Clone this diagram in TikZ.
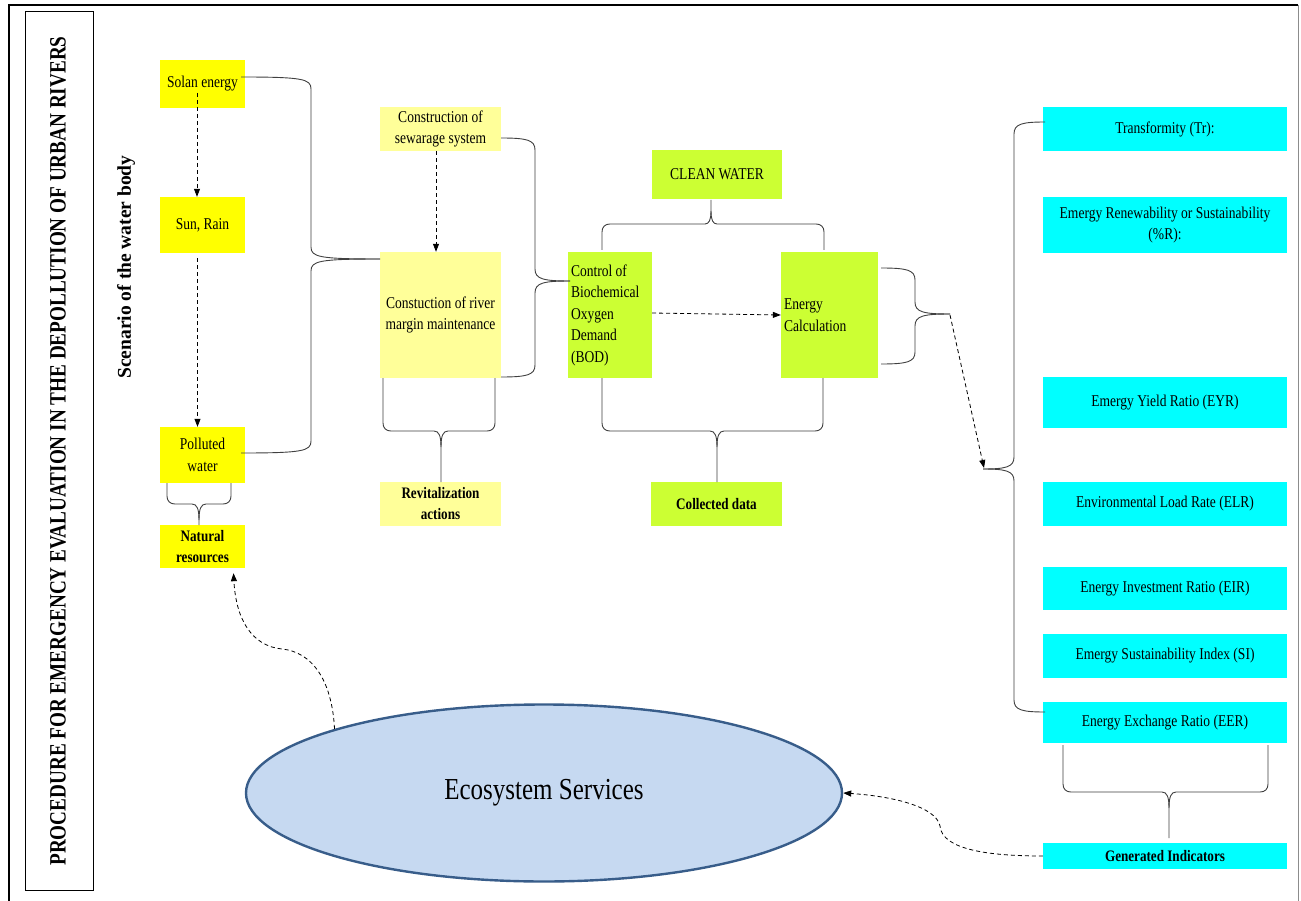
\documentclass[tikz,border=0pt]{standalone}
\usepackage{fontspec}
\setmainfont{Liberation Serif}[FakeStretch=0.82]
\newfontfamily\plainserif{Liberation Serif}
\usetikzlibrary{arrows.meta,calc,shapes.geometric}
\definecolor{yel}{HTML}{FFFF00}
\definecolor{lyel}{HTML}{FFFF99}
\definecolor{grn}{HTML}{CCFF33}
\definecolor{cyn}{HTML}{00FFFF}
\definecolor{ellfill}{HTML}{C6D9F1}
\definecolor{elldraw}{HTML}{385D8A}
\tikzset{
  base/.style={inner sep=0pt, align=center, font=\fontsize{16.5}{21.5}\selectfont},
  ybox/.style={base, fill=yel},
  lybox/.style={base, fill=lyel},
  gbox/.style={base, fill=grn},
  cbox/.style={base, fill=cyn, minimum width=244pt},
  boldlbl/.style={font=\bfseries\fontsize{16}{21}\selectfont},
  brc/.style={draw=black!75, line width=0.9pt},
  darr/.style={draw=black, line width=0.8pt, dash pattern=on 4pt off 3pt, -{Triangle[length=8pt,width=6pt]}},
}
\newcommand{\braceright}[6]{%
  \draw[brc] (#1,#4) .. controls (#2-8,#4) and (#2,#4+2) .. (#2,#4+12) -- (#2,#5-12) .. controls (#2,#5-2) and (#2+8,#5) .. (#3,#5);
  \draw[brc] (#1,#6) .. controls (#2-8,#6) and (#2,#6-2) .. (#2,#6-12) -- (#2,#5+12) .. controls (#2,#5+2) and (#2+8,#5) .. (#3,#5);}
\newcommand{\braceleftx}[6]{%
  \draw[brc] (#1,#4) .. controls (#2+8,#4) and (#2,#4+2) .. (#2,#4+12) -- (#2,#5-12) .. controls (#2,#5-2) and (#2-8,#5) .. (#3,#5);
  \draw[brc] (#1,#6) .. controls (#2+8,#6) and (#2,#6-2) .. (#2,#6-12) -- (#2,#5+12) .. controls (#2,#5+2) and (#2-8,#5) .. (#3,#5);}
\newcommand{\bracedown}[6]{%
  \draw[brc] (#1,#4) -- (#1,#5-8) .. controls (#1,#5-3) and (#1+3,#5) .. (#1+8,#5) -- (#3-7,#5) .. controls (#3-2,#5) and (#3,#5+5) .. (#3,#5+16) -- (#3,#6);
  \draw[brc] (#2,#4) -- (#2,#5-8) .. controls (#2,#5-3) and (#2-3,#5) .. (#2-8,#5) -- (#3+7,#5) .. controls (#3+2,#5) and (#3,#5+5) .. (#3,#5+16);}
\newcommand{\braceupx}[6]{%
  \draw[brc] (#1,#4) -- (#1,#5+8) .. controls (#1,#5+3) and (#1+3,#5) .. (#1+8,#5) -- (#3-6,#5) .. controls (#3-2,#5) and (#3,#5-4) .. (#3,#5-13) -- (#3,#6);
  \draw[brc] (#2,#4) -- (#2,#5+8) .. controls (#2,#5+3) and (#2-3,#5) .. (#2-8,#5) -- (#3+6,#5) .. controls (#3+2,#5) and (#3,#5-4) .. (#3,#5-13);}
\begin{document}
\begin{tikzpicture}[x=1pt,y=-1pt]
\useasboundingbox (0,0) rectangle (1301,901);
\fill[white] (0,0) rectangle (1301,901);
% frame
\draw[black, line width=1.8pt] (9,901) -- (9,5) -- (1298,5);
\draw[black!45, line width=0.8pt] (1298,5) -- (1298,901);
\draw[black, line width=0.8pt] (25,11) rectangle (93,890);
\node[rotate=90, font=\bfseries\fontsize{23.4}{27}\selectfont] (title) at (58,451) {PROCEDURE FOR EMERGENCY EVALUATION IN THE DEPOLLUTION OF URBAN RIVERS};
\node[rotate=90, font=\plainserif\bfseries\fontsize{19.5}{22}\selectfont] (scen) at (126,267) {Scenario of the water body};

% yellow column
\node[ybox, minimum width=85pt, minimum height=48pt] (sol) at (202.5,84) {Solan energy};
\node[ybox, minimum width=85pt, minimum height=56pt] (sun) at (202.5,225) {Sun, Rain};
\node[ybox, minimum width=85pt, minimum height=56pt] (pol) at (202.5,455) {Polluted\\water};
\node[ybox, boldlbl, minimum width=85pt, minimum height=43pt] (nat) at (202.5,546.5) {Natural\\resources};

% light yellow column
\node[lybox, minimum width=121pt, minimum height=44pt] (sew) at (440.5,129) {Construction of\\sewarage system};
\node[lybox, minimum width=121pt, minimum height=126pt] (riv) at (440.5,315) {Constuction of river\\margin maintenance};
\node[lybox, boldlbl, minimum width=121pt, minimum height=44pt] (rev) at (440.5,504) {Revitalization\\actions};

% green
\node[gbox, minimum width=84pt, minimum height=126pt, text width=78pt, align=flush left, inner xsep=3pt] (bod) at (610,315) {Control of\\Biochemical\\Oxygen\\Demand\\(BOD)};
\node[gbox, minimum width=130pt, minimum height=49pt] (cw) at (717,174.5) {CLEAN WATER};
\node[gbox, minimum width=97pt, minimum height=126pt, text width=91pt, align=flush left, inner xsep=3pt] (ec) at (829.5,315) {Energy\\Calculation};
\node[gbox, boldlbl, minimum width=131pt, minimum height=44pt] (cd) at (716.5,504) {Collected data};

% cyan
\node[cbox, minimum height=44pt] (tr) at (1165,129) {Transformity (Tr):};
\node[cbox, minimum height=56pt] (er) at (1165,225) {Emergy Renewability or Sustainability\\(\%R):};
\node[cbox, minimum height=51pt] (eyr) at (1165,402.5) {Emergy Yield Ratio (EYR)};
\node[cbox, minimum height=44pt] (elr) at (1165,504) {Environmental Load Rate (ELR)};
\node[cbox, minimum height=43pt] (eir) at (1165,588.5) {Energy Investment Ratio (EIR)};
\node[cbox, minimum height=44pt] (esi) at (1165,656) {Emergy Sustainability Index (SI)};
\node[cbox, minimum height=41pt] (eer) at (1165,722.5) {Energy Exchange Ratio (EER)};
\node[cbox, boldlbl, minimum height=26pt] (gi) at (1165,856) {Generated Indicators};

% ellipse
\node[ellipse, draw=elldraw, fill=ellfill, line width=2.4pt, minimum width=596pt, minimum height=177pt, inner sep=0pt, font=\fontsize{30.5}{36}\selectfont] (eco) at (544,793) {Ecosystem Services};

% braces
\braceright{241}{311}{380}{77}{259}{453}
\braceright{501}{535}{570}{138}{281}{377}
\braceright{881}{915}{950}{268}{314}{364}
\braceleftx{1045}{1014}{983}{122}{469}{712}
\bracedown{383}{495}{441}{378}{431}{482}
\bracedown{602}{823}{717}{378}{431}{482}
\bracedown{1063}{1268}{1169}{745}{792}{838}
\bracedown{167}{231}{199}{483}{504}{525}
\braceupx{602}{824}{711}{250}{224}{200}

\coordinate (ectip) at (950,315);
\coordinate (cytip) at (984,468);

% dashed arrows
\draw[darr] ($(sol.center)+(-5.5,9)$) -- ($(sun.north)+(-5.5,0)$);
\draw[darr] ($(sun.south)+(-5,5)$) -- ($(pol.north)+(-5,0)$);
\draw[darr] ($(sew.south)+(-4.5,0)$) -- ($(riv.north)+(-4.5,0)$);
\draw[darr] ($(bod.east)+(0,-2)$) -- (ec.west);
\draw[darr] (ectip) -- (cytip);
\draw[darr] (eco.163) .. controls (332,680) and (312,652) .. (282,649) .. controls (252,646) and (236,620) .. ($(nat.south)+(31,5)$);
\draw[darr] (gi.west) .. controls (990,856) and (942,850) .. (940,826) .. controls (936,806) and (890,796) .. (eco.east);
\end{tikzpicture}
\end{document}
